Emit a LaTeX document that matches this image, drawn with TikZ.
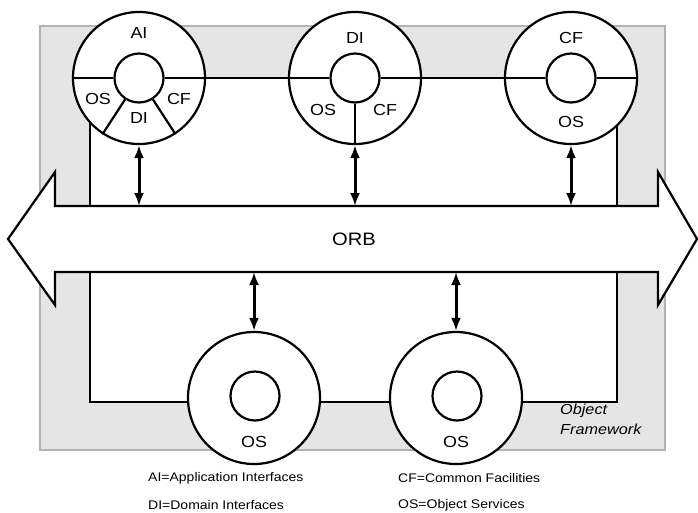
\documentclass[tikz,border=0pt]{standalone}
\usepackage{fontspec}
\newfontfamily\lab[FakeStretch=1.12]{Liberation Sans}
\usetikzlibrary{arrows.meta}
\begin{document}
\begin{tikzpicture}[x=1pt,y=-1pt,
  ring/.style={circle,draw,line width=2.2pt,fill=white,inner sep=0pt,minimum size=132pt},
  core/.style={circle,draw,line width=2.2pt,fill=white,inner sep=0pt,minimum size=49pt},
  seg/.style={line width=2.2pt},
  edge/.style={line width=2.2pt},
  dbl/.style={line width=3pt,{Latex[length=13pt,width=10pt]}-{Latex[length=13pt,width=10pt]}},
  lbl/.style={font=\lab\fontsize{16}{18}\selectfont,inner sep=0pt},
  leg/.style={font=\lab\fontsize{12.5}{14}\selectfont,inner sep=0pt,anchor=west}]
\useasboundingbox (0,0) rectangle (698,512);
% gray framework
\draw[fill=gray!20,draw=gray!60,line width=1.8pt] (40,26) rectangle (665,450);
% white regions
\fill[white] (90,78) rectangle (617,206);
\fill[white] (90,272) rectangle (617,402);
\coordinate (ltop) at (90,206);
\coordinate (rtop) at (617,206);
\coordinate (lbot) at (90,272);
\coordinate (rbot) at (617,272);
\coordinate (lup) at (90,78);
\coordinate (rup) at (617,78);
\coordinate (llow) at (90,402);
\coordinate (rlow) at (617,402);
% region borders (covered by rings where they cross)
\draw[edge,line join=miter] (ltop) -- (lup) -- (rup) -- (rtop);
\draw[edge,line join=miter] (lbot) -- (llow) -- (rlow) -- (rbot);
% ORB arrow
\draw[fill=white,line width=2.2pt,line join=miter]
  (8,239) -- (55,172) -- (55,206) -- (658,206) -- (658,172) -- (697,239)
  -- (658,305) -- (658,272) -- (55,272) -- (55,305) -- cycle;
\node[font=\lab\fontsize{18}{20}\selectfont,inner sep=0pt] (orb) at (354,239) {ORB};
% upper circles
\node[ring] (ai) at (139,78) {};
\node[core] (aii) at (139,78) {};
\node[ring] (di) at (355,78) {};
\node[core] (dii) at (355,78) {};
\node[ring] (cf) at (571,78) {};
\node[core] (cfi) at (571,78) {};
% ring segmentation
\draw[seg] (ai.180) -- (aii.180);
\draw[seg] (aii.0) -- (ai.0);
\draw[seg] (aii.-123) -- (ai.-123);
\draw[seg] (aii.-57) -- (ai.-57);
\draw[seg] (di.180) -- (dii.180);
\draw[seg] (dii.0) -- (di.0);
\draw[seg] (dii.-90) -- (di.-90);
\draw[seg] (cf.180) -- (cfi.180);
\draw[seg] (cfi.0) -- (cf.0);
% labels
\node[lbl] (ait) at (139,33) {AI};
\node[lbl] (aios) at (98,99) {OS};
\node[lbl] (aicf) at (179,99) {CF};
\node[lbl] (aidi) at (139,118) {DI};
\node[lbl] (dit) at (355,38) {DI};
\node[lbl] (dios) at (323,110) {OS};
\node[lbl] (dicf) at (385,110) {CF};
\node[lbl] (cft) at (571,38) {CF};
\node[lbl] (cfos) at (571,122) {OS};
% lower circles
\node[ring] (osa) at (254,398) {};
\node[core] (osai) at (255,396) {};
\node[ring] (osb) at (456,398) {};
\node[core] (osbi) at (457,396) {};
\node[lbl] (osat) at (254,442) {OS};
\node[lbl] (osbt) at (456,442) {OS};
% double arrows
\draw[dbl] (ai.-90) -- (ai.-90 |- ltop);
\draw[dbl] (di.-90) -- (di.-90 |- ltop);
\draw[dbl] (cf.-90) -- (cf.-90 |- ltop);
\draw[dbl] (osa.90 |- lbot) -- (osa.90);
\draw[dbl] (osb.90 |- lbot) -- (osb.90);
% framework label
\node[font=\lab\itshape\fontsize{14.5}{20}\selectfont,align=left,anchor=north west,inner sep=0pt] (fw) at (560,404) {Object\\Framework};
% legend
\node[leg] (lga) at (148,478) {AI=Application Interfaces};
\node[leg] (lgb) at (148,505) {DI=Domain Interfaces};
\node[leg] (lgc) at (398,478) {CF=Common Facilities};
\node[leg] (lgd) at (398,505) {OS=Object Services};
\end{tikzpicture}
\end{document}
